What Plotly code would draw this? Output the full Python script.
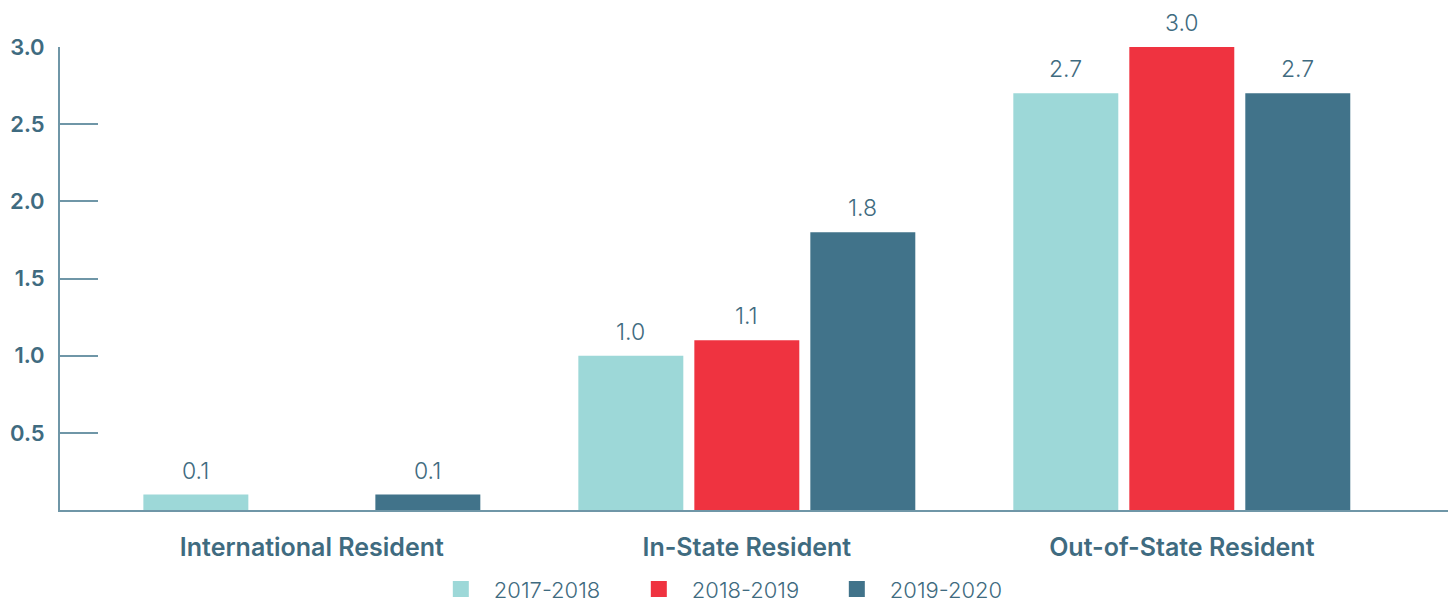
import plotly.graph_objects as go

categories = ["International Resident", "In-State Resident", "Out-of-State Resident"]
series_names = ["2017-2018", "2018-2019", "2019-2020"]
values_2017_2018 = [0.1, 1.0, 2.7]
values_2018_2019 = [None, 1.1, 3.0]
values_2019_2020 = [0.1, 1.8, 2.7]
y_ticks = [0.5, 1.0, 1.5, 2.0, 2.5, 3.0]

colors = ["#9dd8d8", "#ef3340", "#41738a"]
text_color = "#3f6b80"
axis_color = "#6f96a7"
font_family = "Inter, 'Open Sans', sans-serif"

all_values = [values_2017_2018, values_2018_2019, values_2019_2020]

fig = go.Figure()
for name, vals, col in zip(series_names, all_values, colors):
    fig.add_trace(go.Bar(
        x=categories, y=vals, name=name, showlegend=False,
        marker=dict(color=col, line=dict(width=0)),
    ))

# legend entries with larger square swatches
for name, col in zip(series_names, colors):
    fig.add_trace(go.Scatter(
        x=[None], y=[None], name=name, mode="markers",
        marker=dict(symbol="square", size=16, color=col, line=dict(width=0)),
    ))

# value labels above each bar
slot_px = 116
for i, vals in enumerate(all_values):
    for cat, v in zip(categories, vals):
        if v is None:
            continue
        fig.add_annotation(
            x=cat, y=v, text=f"{v:.1f}", showarrow=False,
            xshift=(i - 1) * slot_px, yshift=24,
            font=dict(family=font_family, size=23, color=text_color, weight=300),
            yanchor="middle",
        )

fig.update_layout(
    width=1451, height=602,
    margin=dict(l=60, r=3, t=47, b=92, autoexpand=False),
    paper_bgcolor="white", plot_bgcolor="white",
    barmode="group", bargap=0.2, bargroupgap=0.095,
    font=dict(family=font_family, color=text_color),
    showlegend=True,
    legend=dict(
        orientation="h", x=0.265, xanchor="left", y=-0.171, yanchor="middle",
        font=dict(family=font_family, size=22, color=text_color, weight=300),
        entrywidth=127, entrywidthmode="pixels", itemwidth=56,
        itemclick=False,
    ),
    xaxis=dict(
        range=[-0.579, 2.612], showgrid=False, zeroline=False,
        showline=True, linecolor=axis_color, linewidth=2,
        ticks="", ticklabelstandoff=14,
        tickfont=dict(family=font_family, size=25, color=text_color, weight=600),
    ),
    yaxis=dict(
        range=[0, 3.0], showgrid=False, zeroline=False,
        showline=True, linecolor=axis_color, linewidth=2,
        tickvals=y_ticks, ticktext=[f"{t:.1f}" for t in y_ticks],
        ticks="inside", ticklen=38, tickcolor=axis_color, tickwidth=2,
        ticklabelstandoff=9,
        tickfont=dict(family=font_family, size=22, color=text_color, weight=600),
    ),
)

fig.write_html("out.html")
